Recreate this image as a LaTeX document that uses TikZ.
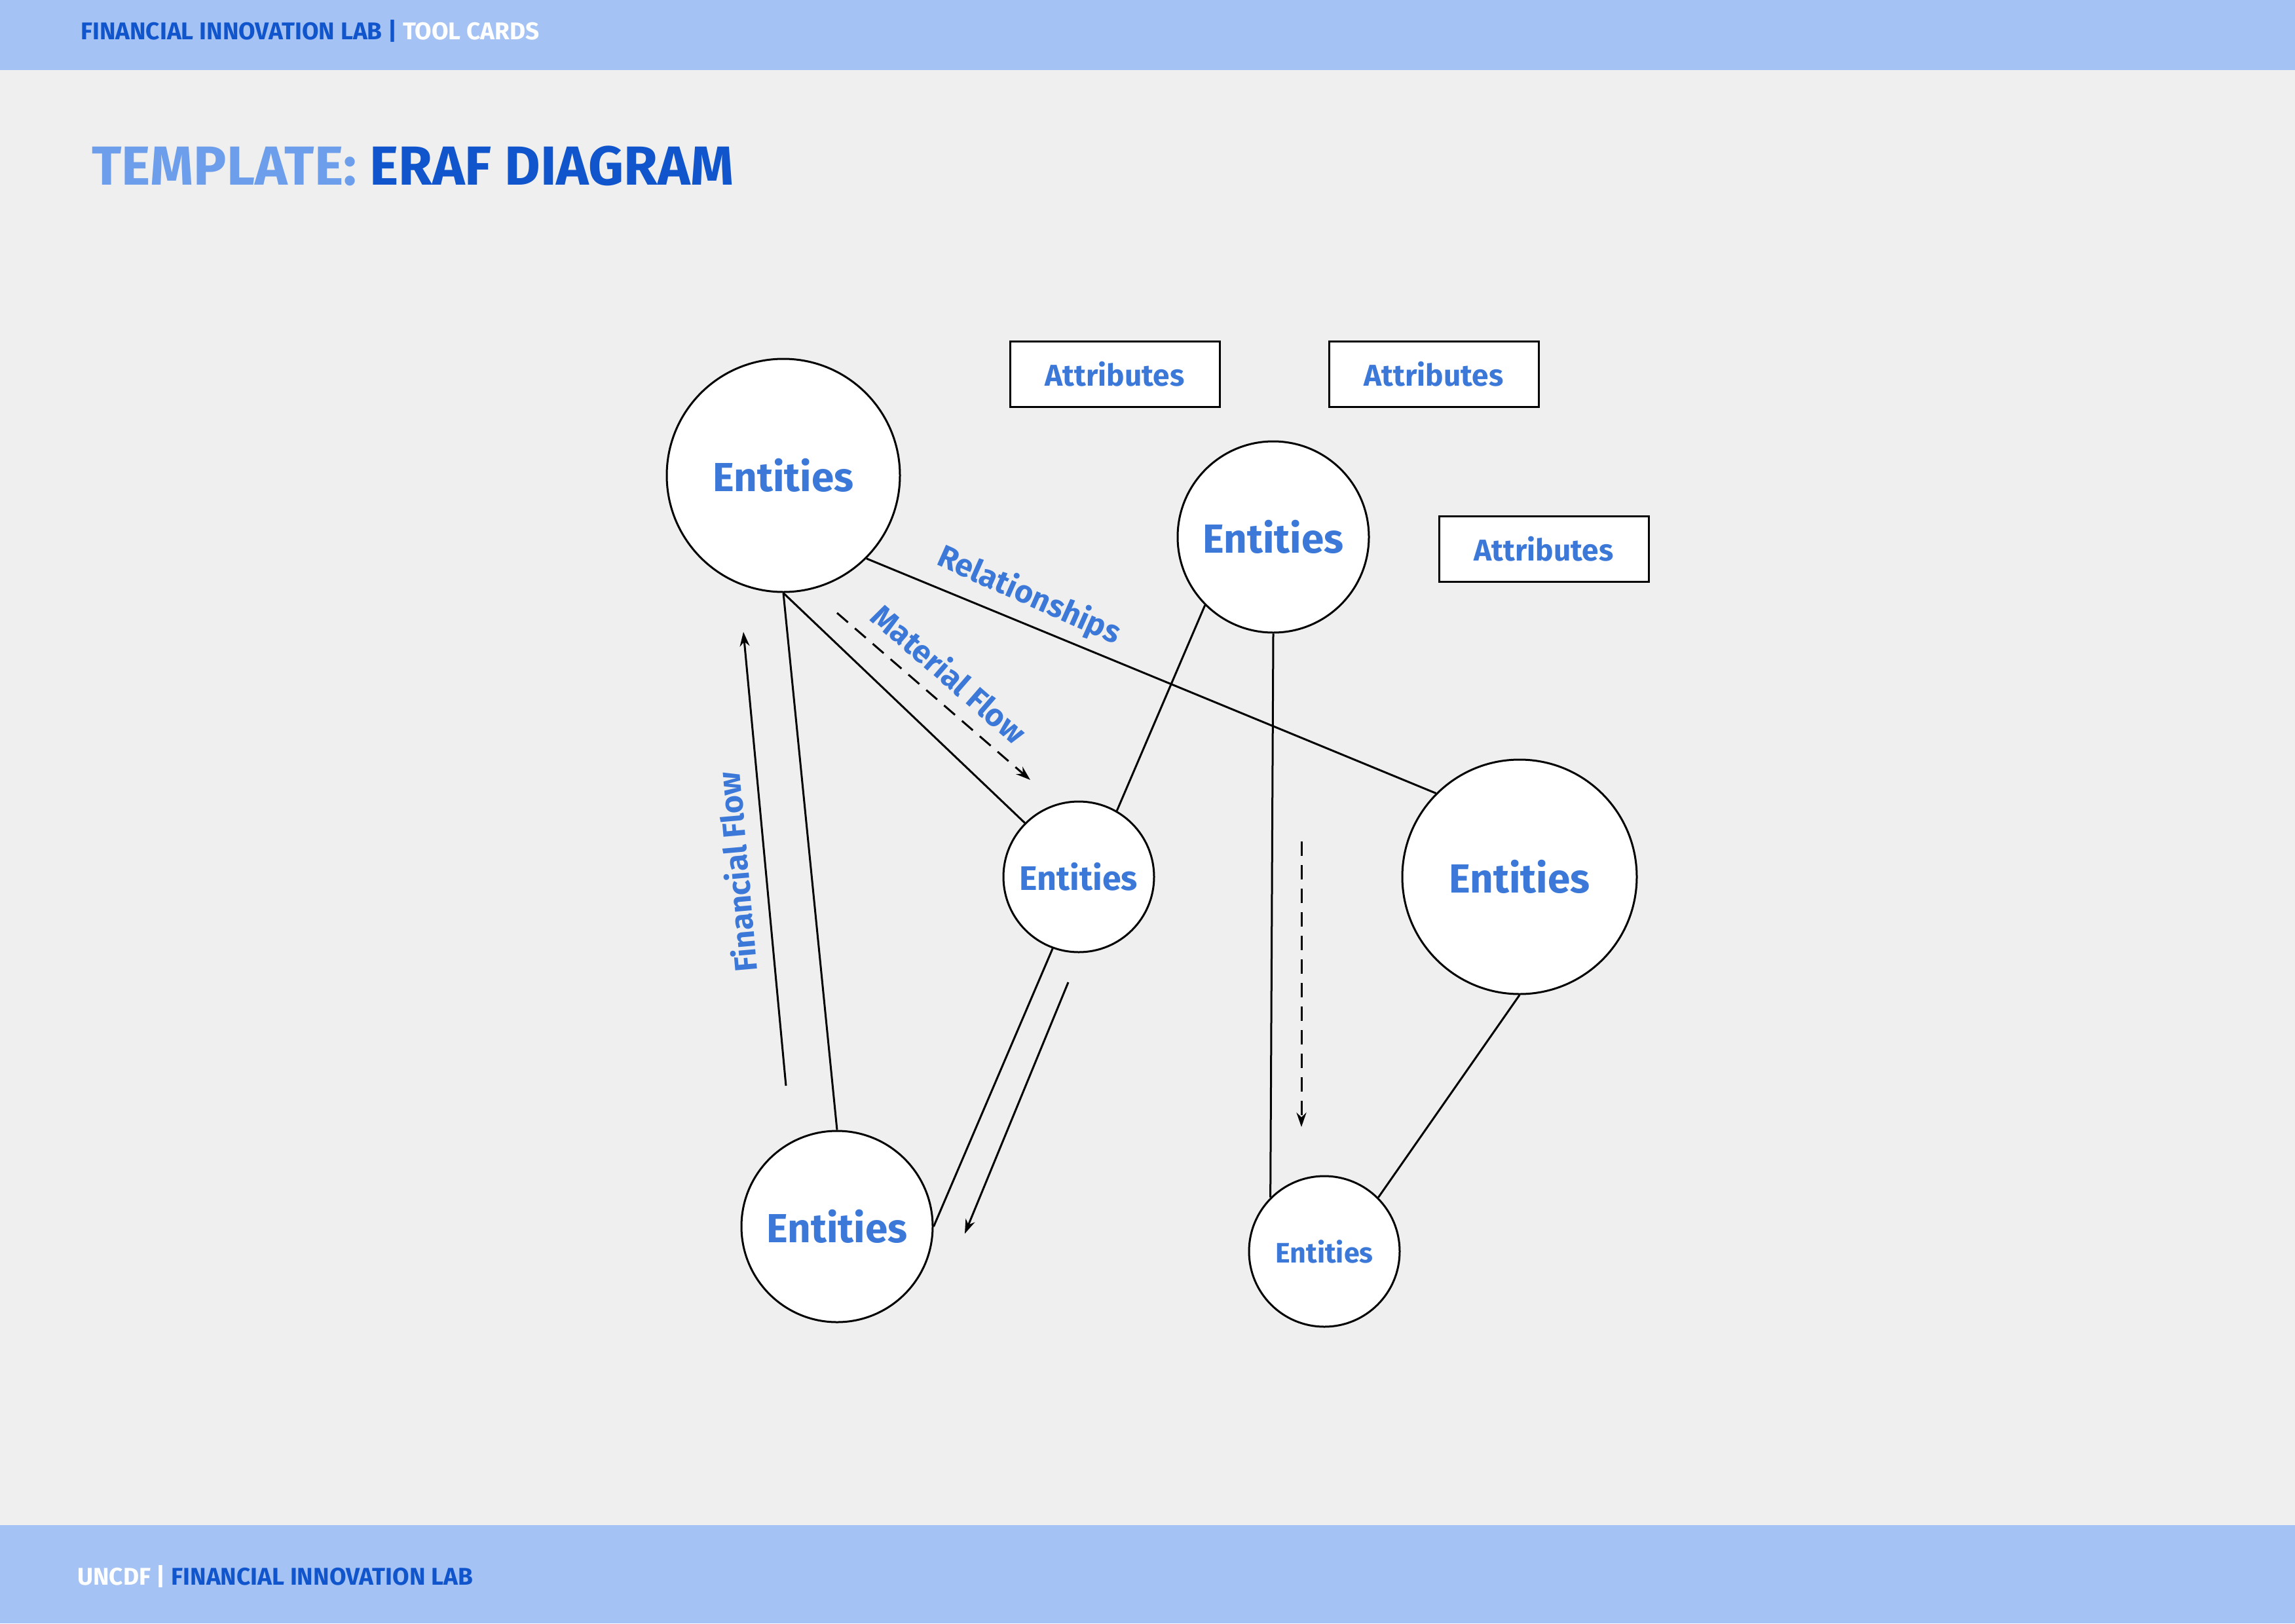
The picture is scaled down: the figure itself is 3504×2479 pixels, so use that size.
\documentclass[tikz,border=0pt]{standalone}
\usepackage{fontspec}
\setmainfont{Fira Sans}
\usetikzlibrary{arrows.meta}
\definecolor{band}{HTML}{A4C2F4}
\definecolor{bg}{HTML}{EFEFEF}
\definecolor{dblue}{HTML}{1155CC}
\definecolor{lblue}{HTML}{6D9EEB}
\definecolor{tblue}{HTML}{3C78D8}
\begin{document}
\begin{tikzpicture}[x=1pt,y=-1pt,
 ent/.style={circle,draw=black,fill=white,line width=3pt,inner sep=0pt,text=tblue,font=\bfseries\fontsize{62}{70}\selectfont},
 attr/.style={draw=black,fill=white,line width=3pt,minimum width=320pt,minimum height=100pt,inner sep=0pt,text=tblue,font=\bfseries\fontsize{46}{52}\selectfont},
 conn/.style={line width=3pt,draw=black},
 lbl/.style={text=tblue,font=\bfseries\fontsize{48}{54}\selectfont,inner sep=0pt},
 tip/.style={-{Stealth[length=22pt,width=15pt]}},
 dsh/.style={dash pattern=on 22pt off 14pt},
 hdr/.style={inner sep=0pt,anchor=base west,font=\bfseries\fontsize{37}{42}\selectfont}
]
\fill[bg] (0,0) rectangle (3504,2479);
\useasboundingbox (0,0) rectangle (3504,2479);
\fill[band] (0,0) rectangle (3504,107);
\fill[band] (0,2329) rectangle (3504,2479);

\node[hdr] (head) at (123,60) {\textcolor{dblue}{FINANCIAL INNOVATION LAB |} \textcolor{white}{TOOL CARDS}};
\node[hdr] (foot) at (118,2420) {\textcolor{white}{UNCDF |} \textcolor{dblue}{FINANCIAL INNOVATION LAB}};
\node[inner sep=0pt,anchor=base west,font=\bfseries\fontsize{84}{96}\selectfont] (title) at (140,282) {\textcolor{lblue}{TEMPLATE:} \textcolor{dblue}{ERAF DIAGRAM}};

\node[ent,minimum size=356pt] (e1) at (1196,726) {Entities};
\node[ent,minimum size=292pt] (e2) at (1944,820) {Entities};
\node[ent,minimum size=230pt,font=\bfseries\fontsize{52}{60}\selectfont] (e3) at (1647,1339) {Entities};
\node[ent,minimum size=358pt] (e4) at (2320,1339) {Entities};
\node[ent,minimum size=292pt] (e5) at (1278,1873) {Entities};
\node[ent,minimum size=230pt,font=\bfseries\fontsize{43}{50}\selectfont] (e6) at (2022,1911) {Entities};

\node[attr] (a1) at (1702,571) {Attributes};
\node[attr] (a2) at (2189,571) {Attributes};
\node[attr] (a3) at (2357,838) {Attributes};

\draw[conn] (e1.south) -- (e5.north);
\draw[conn] (e1.south) -- (e3.north west);
\draw[conn] (e1.south east) -- (e4.north west);
\draw[conn] (e3.60) -- (e2.south west);
\draw[conn] (e2.south) -- (e6.north west);
\draw[conn] (e4.south) -- (e6.north east);
\draw[conn] (e5.east) -- (e3.250);

\coordinate (ffa) at (1200,1658);
\coordinate (ffb) at (1135,965);
\coordinate (mfa) at (1278,936);
\coordinate (mfb) at (1573,1191);
\coordinate (ra) at (1631,1500);
\coordinate (rb) at (1473,1884);
\coordinate (va) at (1987,1285);
\coordinate (vb) at (1987,1721);
\draw[conn,tip] (ffa) -- (ffb);
\draw[conn,tip,dsh] (mfa) -- (mfb);
\draw[conn,tip] (ra) -- (rb);
\draw[conn,tip,dsh] (va) -- (vb);

\node[lbl,rotate=95] (lff) at (1124,1332) {Financial Flow};
\node[lbl,rotate=-41] (lmf) at (1450,1028) {Material Flow};
\node[lbl,rotate=-24] (lrel) at (1571,910) {Relationships};
\end{tikzpicture}
\end{document}
